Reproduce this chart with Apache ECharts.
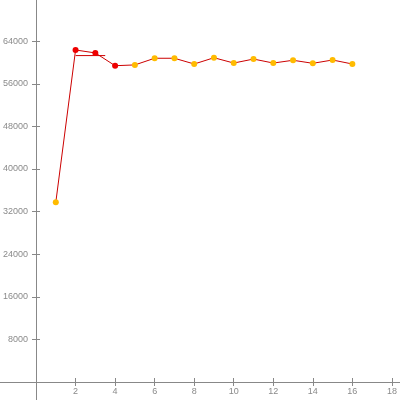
<!DOCTYPE html>
<html><head><meta charset="utf-8">
<script src="https://cdn.jsdelivr.net/npm/echarts@6/dist/echarts.min.js"></script>
<style>html,body{margin:0;padding:0;background:#fff}#c{width:400px;height:400px}</style>
</head><body><div id="c"></div>
<script>
var xValues = [1,2,3,4,5,6,7,8,9,10,11,12,13,14,15,16];
var yValues = [33750,62350,61800,59400,59550,60800,60800,59720,60900,59900,60650,59900,60420,59850,60470,59720];
var redPoints = [2,3,4];
var extraSegX = [2,3.5];
var extraSegY = [61300,61300];
var xTicks = [2,4,6,8,10,12,14,16,18];
var yTicks = [8000,16000,24000,32000,40000,48000,56000,64000];

var mainData = xValues.map(function(x,i){
  return {value:[x,yValues[i]], itemStyle:{color: redPoints.indexOf(x)>=0 ? '#ee0000' : '#ffbb00'}};
});
var segData = extraSegX.map(function(x,i){return [x,extraSegY[i]];});

var axisCol = '#888';
var XMAX = 18.41, YMAX = 71740;
var chart = echarts.init(document.getElementById('c'));
function fmt(v){return '' + v;}
var font = {color:'#8a8a8a', fontSize:9, fontFamily:'Liberation Sans'};
function xa(inside, labels){
  return {type:'value', gridIndex:0, min:0, max:XMAX, position:'bottom',
    axisLine:{show:false},
    axisTick:{show:true, inside:inside, length:4, customValues:xTicks, lineStyle:{color:axisCol}},
    axisLabel:Object.assign({show:labels, customValues:xTicks, formatter:fmt, margin:5, hideOverlap:false}, font),
    splitLine:{show:false}};
}
function ya(inside, labels){
  return {type:'value', gridIndex:0, min:0, max:YMAX, position:'left',
    axisLine:{show:false},
    axisTick:{show:true, inside:inside, length:4, customValues:yTicks, lineStyle:{color:axisCol}},
    axisLabel:Object.assign({show:labels, customValues:yTicks, formatter:fmt, margin:8, hideOverlap:false}, font),
    splitLine:{show:false}};
}
chart.setOption({
  animation:false,
  grid:[
    {left:36, right:0, top:0, bottom:18, containLabel:false},
    {left:0, right:0, top:0, bottom:0, containLabel:false, outerBoundsMode:'none'}
  ],
  xAxis:[xa(false,true), xa(true,false),
    {type:'value', gridIndex:1, min:-1.82, max:XMAX, position:'bottom',
     axisLine:{show:true,onZero:true,lineStyle:{color:axisCol,width:1}}, axisTick:{show:false}, axisLabel:{show:false}, splitLine:{show:false}}],
  yAxis:[ya(false,true), ya(true,false),
    {type:'value', gridIndex:1, min:-3380, max:YMAX, position:'left',
     axisLine:{show:true,onZero:true,lineStyle:{color:axisCol,width:1}}, axisTick:{show:false}, axisLabel:{show:false}, splitLine:{show:false}}],
  series:[
    {type:'line', xAxisIndex:0, yAxisIndex:0, data:mainData, symbol:'circle', symbolSize:6, lineStyle:{color:'#cc0000',width:1}, z:3},
    {type:'line', xAxisIndex:0, yAxisIndex:0, data:segData, symbol:'none', lineStyle:{color:'#cc0000',width:1}, z:2}
  ]
});
</script></body></html>
